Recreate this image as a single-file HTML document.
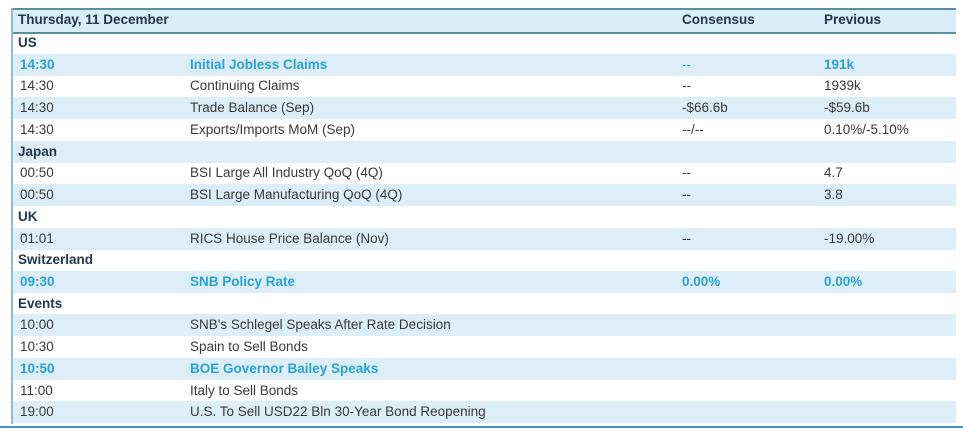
<!DOCTYPE html>
<html><head><meta charset="utf-8">
<style>
html,body{margin:0;padding:0;background:#fff;}
body{width:963px;height:432px;position:relative;overflow:hidden;font-family:"Liberation Sans",Arial,sans-serif;font-size:13.5px;color:#3a3a3a;}
.hdr{position:absolute;left:12px;top:8px;width:944px;height:22px;background:#d9eef8;border-top:2px solid #5a8f9e;border-bottom:2px solid #5a8f9e;}
.lb{position:absolute;left:11px;top:8px;width:2px;height:416px;background:#86bfd6;}
.row{position:absolute;left:13px;width:943px;height:22px;}
.b{background:#ddeef8;}
.t{position:absolute;white-space:nowrap;line-height:22px;top:0;}
.h{font-weight:bold;color:#22384d;}
.hl{color:#27a3d6;font-weight:bold;}
.sec{font-weight:bold;color:#22384d;}
.bot{position:absolute;left:0;top:426px;width:963px;height:2px;background:#3d93cf;}
</style></head><body>
<div class="hdr">
<span class="t h" style="left:6px;top:0;line-height:20px">Thursday, 11 December</span>
<span class="t h" style="left:670px;line-height:20px">Consensus</span>
<span class="t h" style="left:812px;line-height:20px">Previous</span>
</div>

<div class="row" style="top:32px"><span class="t sec" style="left:5px">US</span></div>
<div class="row b hl" style="top:53.7px"><span class="t" style="left:7px">14:30</span><span class="t" style="left:177px">Initial Jobless Claims</span><span class="t" style="left:669px;font-weight:normal">--</span><span class="t" style="left:811px">191k</span></div>
<div class="row" style="top:75.4px"><span class="t" style="left:7px">14:30</span><span class="t" style="left:177px">Continuing Claims</span><span class="t" style="left:669px">--</span><span class="t" style="left:811px">1939k</span></div>
<div class="row b" style="top:97.2px"><span class="t" style="left:7px">14:30</span><span class="t" style="left:177px">Trade Balance (Sep)</span><span class="t" style="left:669px">-$66.6b</span><span class="t" style="left:811px">-$59.6b</span></div>
<div class="row" style="top:118.9px"><span class="t" style="left:7px">14:30</span><span class="t" style="left:177px">Exports/Imports MoM (Sep)</span><span class="t" style="left:669px">--/--</span><span class="t" style="left:811px">0.10%/-5.10%</span></div>
<div class="row b" style="top:140.6px"><span class="t sec" style="left:5px">Japan</span></div>
<div class="row" style="top:162.3px"><span class="t" style="left:7px">00:50</span><span class="t" style="left:177px">BSI Large All Industry QoQ (4Q)</span><span class="t" style="left:669px">--</span><span class="t" style="left:811px">4.7</span></div>
<div class="row b" style="top:184px"><span class="t" style="left:7px">00:50</span><span class="t" style="left:177px">BSI Large Manufacturing QoQ (4Q)</span><span class="t" style="left:669px">--</span><span class="t" style="left:811px">3.8</span></div>
<div class="row" style="top:205.8px"><span class="t sec" style="left:5px">UK</span></div>
<div class="row b" style="top:227.5px"><span class="t" style="left:7px">01:01</span><span class="t" style="left:177px">RICS House Price Balance (Nov)</span><span class="t" style="left:669px">--</span><span class="t" style="left:811px">-19.00%</span></div>
<div class="row" style="top:249.2px"><span class="t sec" style="left:5px">Switzerland</span></div>
<div class="row b hl" style="top:270.9px"><span class="t" style="left:7px">09:30</span><span class="t" style="left:177px">SNB Policy Rate</span><span class="t" style="left:669px">0.00%</span><span class="t" style="left:811px">0.00%</span></div>
<div class="row" style="top:292.6px"><span class="t sec" style="left:5px">Events</span></div>
<div class="row b" style="top:314.4px"><span class="t" style="left:7px">10:00</span><span class="t" style="left:177px">SNB's Schlegel Speaks After Rate Decision</span></div>
<div class="row" style="top:336.1px"><span class="t" style="left:7px">10:30</span><span class="t" style="left:177px">Spain to Sell Bonds</span></div>
<div class="row b hl" style="top:357.8px"><span class="t" style="left:7px">10:50</span><span class="t" style="left:177px">BOE Governor Bailey Speaks</span></div>
<div class="row" style="top:379.5px"><span class="t" style="left:7px">11:00</span><span class="t" style="left:177px">Italy to Sell Bonds</span></div>
<div class="row b" style="top:401.2px"><span class="t" style="left:7px">19:00</span><span class="t" style="left:177px">U.S. To Sell USD22 Bln 30-Year Bond Reopening</span></div>
<div class="lb"></div>
<div class="bot"></div>
</body></html>
